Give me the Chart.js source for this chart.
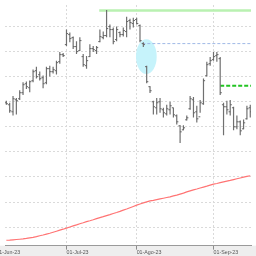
<!DOCTYPE html>
<html>
<head>
<meta charset="utf-8">
<script src="https://cdn.jsdelivr.net/npm/chart.js@4.4.0/dist/chart.umd.min.js"></script>
<style>
  html, body { margin: 0; padding: 0; background: #fff; }
  #wrap { width: 256px; height: 256px; }
</style>
</head>
<body>
<div id="wrap"><canvas id="grafico"></canvas></div>
<script>
// etiquetas del eje x (índice de sesión donde empieza cada mes)
var tickLabels = ['01-Jun-23', '01-Jul-23', '01-Ago-23', '01-Sep-23'];
var tickIndex = [-3, 18, 39, 62];

// líneas horizontales de la rejilla
var yTicks = [2, 2.25, 2.5, 2.75, 3, 3.25, 3.5, 3.75, 4];

// OHLC por sesión
var high = [3.259, 3.239, 3.307, 3.288, 3.366, 3.444, 3.453, 3.463, 3.571, 3.600,
            3.551, 3.512, 3.600, 3.610, 3.600, 3.658, 3.746, 3.737, 3.971, 3.941,
            3.902, 3.854, 3.893, 3.727, 3.707, 3.824, 3.805, 3.805, 3.971, 3.951,
            4.166, 4.020, 3.990, 4.000, 3.951, 3.990, 4.097, 4.078, 4.088, 4.088,
            4.020, 3.844, 3.610, 3.405, 3.259, 3.288, 3.288, 3.190, 3.220, 3.249,
            3.190, 3.122, 3.015, 3.015, 3.112, 3.307, 3.298, 3.210, 3.268, 3.483,
            3.649, 3.697, 3.746, 3.746, 3.697, 3.239, 3.259, 3.268, 3.200, 3.112,
            3.063, 3.073, 3.210, 3.220];
var low = [3.220, 3.141, 3.112, 3.122, 3.268, 3.317, 3.376, 3.346, 3.444, 3.483,
           3.463, 3.385, 3.424, 3.502, 3.532, 3.522, 3.629, 3.697, 3.805, 3.844,
           3.776, 3.727, 3.756, 3.600, 3.580, 3.697, 3.746, 3.727, 3.844, 3.873,
           3.893, 3.893, 3.824, 3.854, 3.893, 3.902, 3.893, 3.971, 3.990, 4.020,
           3.844, 3.795, 3.434, 3.337, 3.122, 3.122, 3.141, 3.093, 3.112, 3.122,
           3.093, 3.024, 2.839, 2.966, 3.063, 3.171, 3.093, 3.044, 3.141, 3.220,
           3.502, 3.610, 3.658, 3.649, 3.317, 2.917, 3.122, 3.112, 2.966, 2.976,
           2.917, 2.976, 3.073, 3.093];
var open = [3.24, 3.22, 3.15, 3.27, 3.28, 3.34, 3.43, 3.39, 3.46, 3.56,
            3.52, 3.49, 3.44, 3.58, 3.55, 3.56, 3.65, 3.72, 3.82, 3.92,
            3.89, 3.80, 3.76, 3.70, 3.61, 3.70, 3.78, 3.76, 3.85, 3.89,
            3.91, 4.00, 3.97, 3.87, 3.94, 3.92, 3.95, 4.06, 4.03, 4.07,
            4.01, 3.83, 3.60, 3.40, 3.25, 3.19, 3.25, 3.17, 3.13, 3.17,
            3.19, 3.11, 3.01, 2.97, 3.07, 3.18, 3.27, 3.15, 3.10, 3.23,
            3.51, 3.63, 3.67, 3.71, 3.68, 3.22, 3.20, 3.15, 3.19, 3.00,
            3.05, 2.98, 3.08, 3.19];
var close = [3.23, 3.16, 3.28, 3.26, 3.34, 3.42, 3.40, 3.45, 3.55, 3.50,
             3.48, 3.43, 3.58, 3.55, 3.57, 3.64, 3.72, 3.71, 3.93, 3.88,
             3.80, 3.75, 3.86, 3.62, 3.66, 3.78, 3.77, 3.79, 3.90, 3.91,
             3.98, 3.97, 3.85, 3.97, 3.92, 3.96, 4.05, 4.04, 4.06, 4.03,
             3.86, 3.82, 3.45, 3.36, 3.20, 3.24, 3.18, 3.14, 3.18, 3.21,
             3.12, 3.05, 2.95, 2.99, 3.09, 3.28, 3.14, 3.08, 3.24, 3.46,
             3.62, 3.66, 3.70, 3.72, 3.34, 3.20, 3.17, 3.22, 3.00, 3.05,
             2.96, 3.04, 3.18, 3.15];

// media móvil (línea roja)
var media = [1.869, 1.870, 1.873, 1.876, 1.879, 1.882, 1.887, 1.893, 1.898, 1.905,
             1.914, 1.921, 1.930, 1.939, 1.949, 1.959, 1.969, 1.979, 1.990, 2.001,
             2.012, 2.022, 2.033, 2.043, 2.054, 2.063, 2.073, 2.084, 2.094, 2.104,
             2.115, 2.125, 2.136, 2.146, 2.157, 2.169, 2.180, 2.193, 2.206, 2.219,
             2.230, 2.241, 2.251, 2.261, 2.267, 2.274, 2.281, 2.288, 2.295, 2.302,
             2.311, 2.319, 2.329, 2.339, 2.351, 2.361, 2.371, 2.380, 2.390, 2.399,
             2.408, 2.418, 2.428, 2.435, 2.443, 2.451, 2.459, 2.466, 2.474, 2.482,
             2.490, 2.498, 2.505, 2.512];

// niveles dibujados sobre el gráfico: [valor, sesión de inicio]
var resistencia = [4.16, 27.8];
var nivelAzul = [3.83, 40.7];
var nivelVerde = [3.41, 64];

var fin = high.length;

function nivel(n) {
  return [{ x: n[1], y: n[0] }, { x: fin, y: n[0] }];
}

// fondo blanco y franja gris bajo el eje x
var fondo = {
  id: 'fondo',
  beforeDraw: function (chart) {
    var c = chart.ctx, a = chart.chartArea;
    c.save();
    c.fillStyle = '#ffffff';
    c.fillRect(0, 0, chart.width, chart.height);
    c.fillStyle = '#eeeeee';
    c.fillRect(0, a.bottom, chart.width, chart.height - a.bottom);
    c.restore();
  }
};

// elipse cian que marca el hueco
var resaltado = {
  id: 'resaltado',
  beforeDatasetsDraw: function (chart) {
    var sx = chart.scales.x, sy = chart.scales.y, c = chart.ctx;
    var cx = sx.getPixelForValue(41.9), cy = sy.getPixelForValue(3.70);
    var rx = sx.getPixelForValue(41.9 + 3.1) - cx;
    var ry = sy.getPixelForValue(3.70) - sy.getPixelForValue(3.70 + 0.173);
    c.save();
    c.fillStyle = '#c6f3fb';
    c.beginPath();
    c.ellipse(cx, cy, rx, ry, 0, 0, Math.PI * 2);
    c.fill();
    c.restore();
  }
};

var ctx = document.getElementById('grafico').getContext('2d');

var grafico = new Chart(ctx, {
  type: 'bar',
  data: {
    datasets: [
      {
        type: 'scatter',
        data: close.map(function (v, i) { return { x: i + 0.22, y: v }; }),
        pointStyle: 'line', pointRadius: 0.9, borderColor: '#666', borderWidth: 1,
        order: 0
      },
      {
        type: 'scatter',
        data: open.map(function (v, i) { return { x: i - 0.22, y: v }; }),
        pointStyle: 'line', pointRadius: 0.9, borderColor: '#666', borderWidth: 1,
        order: 0
      },
      {
        data: high.map(function (h, i) { return { x: i, y: [low[i], h] }; }),
        backgroundColor: '#707070',
        barThickness: 1.2,
        inflateAmount: 0,
        order: 1
      },
      {
        type: 'line',
        data: media.map(function (v, i) { return { x: i, y: v }; }),
        borderColor: '#ff7474', borderWidth: 1.2, pointRadius: 0,
        order: 2
      },
      {
        type: 'line',
        data: nivel(resistencia),
        borderColor: '#b9f1b1', borderWidth: 2.5, pointRadius: 0,
        order: 2
      },
      {
        type: 'line',
        data: nivel(nivelAzul),
        borderColor: '#9fb9e6', borderWidth: 1, borderDash: [3, 2], pointRadius: 0,
        order: 2
      },
      {
        type: 'line',
        data: nivel(nivelVerde),
        borderColor: '#22c422', borderWidth: 2, borderDash: [4, 2], pointRadius: 0,
        order: 2
      }
    ]
  },
  options: {
    responsive: true,
    maintainAspectRatio: false,
    animation: false,
    events: [],
    layout: { padding: 0 },
    plugins: { legend: { display: false }, tooltip: { enabled: false } },
    scales: {
      x: {
        type: 'linear',
        min: -0.4,
        max: 73.22,
        offset: false,
        afterBuildTicks: function (scale) {
          scale.ticks = tickIndex.map(function (v) { return { value: v }; });
        },
        afterFit: function (scale) {
          scale.paddingLeft = 0;
          scale.paddingRight = 0;
        },
        grid: {
          offset: false,
          color: '#dadada',
          tickColor: '#8c8c8c',
          tickLength: 4,
          tickBorderDash: []
        },
        border: { color: '#9a9a9a', width: 1, dash: [2, 2] },
        ticks: {
          autoSkip: false,
          maxRotation: 0,
          minRotation: 0,
          align: 'start',
          padding: 0,
          color: '#555',
          font: { family: 'Liberation Sans', size: 5.3, lineHeight: 1.2 },
          callback: function (value) {
            var k = tickIndex.indexOf(value);
            return k >= 0 ? tickLabels[k] : '';
          }
        }
      },
      y: {
        min: 1.815,
        max: 4.215,
        afterBuildTicks: function (scale) {
          scale.ticks = yTicks.map(function (v) { return { value: v }; });
        },
        grid: { color: '#dadada', drawTicks: false },
        border: { display: false, dash: [2, 2] },
        ticks: { display: false }
      }
    }
  },
  plugins: [fondo, resaltado]
});
</script>
</body>
</html>
